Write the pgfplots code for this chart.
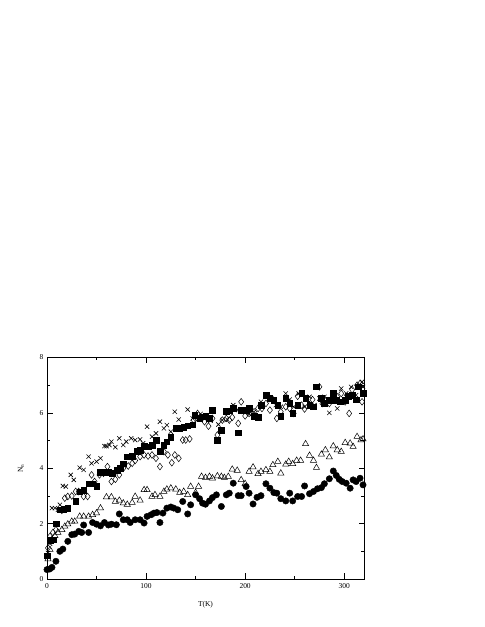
\documentclass[border=0pt]{standalone}
\usepackage{fontspec}
\setmainfont{Liberation Serif}
\usepackage{pgfplots}
\pgfplotsset{compat=1.18}
\usepackage{pgfplotstable}

\pgfplotstableread{
T N
0 0.34
2.7 0.36
5 0.42
9 0.64
13 1.0
16 1.08
21 1.36
25 1.6
28 1.62
32 1.72
35 1.68
37 1.95
42 1.68
46 2.04
50 1.98
54 1.92
58 2.04
62 1.95
65 1.98
70 1.96
73 2.35
77 2.14
81 2.14
84 2.04
89 2.14
94 2.14
98 2.02
101 2.26
105 2.32
108 2.38
111 2.40
114 2.04
117 2.38
121 2.56
125 2.6
128 2.56
132 2.5
137 2.8
142 2.35
145 2.68
150 3.04
154 2.9
157 2.74
160 2.7
164 2.82
167 2.94
171 3.04
176 2.62
181 3.04
184 3.1
188 3.46
193 3.01
196 3.01
201 3.34
204 3.1
208 2.71
212 2.95
216 3.01
221 3.44
225 3.28
229 3.12
232 3.1
236 2.9
241 2.82
245 3.1
248 2.82
253 2.98
257 2.98
260 3.36
265 3.08
269 3.16
273 3.26
277 3.3
280 3.44
285 3.62
289 3.9
292 3.74
295 3.6
298 3.52
302 3.46
306 3.28
309 3.58
312 3.52
316 3.64
319 3.4
}\circles

\pgfplotstableread{
T N
1 0.72
3 1.06
5 1.42
8 1.56
11 1.68
15 1.78
18 1.9
21 1.98
25 2.08
28 2.08
33 2.26
37 2.26
42 2.26
46 2.32
50 2.38
54 2.56
60 2.96
65 2.96
69 2.8
73 2.84
77 2.74
81 2.69
86 2.76
89 2.98
94 2.84
98 3.22
101 3.22
106 2.98
109 3.04
114 2.98
118 3.16
121 3.24
125 3.28
130 3.24
134 3.12
138 3.16
142 3.04
145 3.34
150 3.12
153 3.34
156 3.7
160 3.66
164 3.7
167 3.64
172 3.72
176 3.7
179 3.66
183 3.7
187 3.96
192 3.92
196 3.58
200 3.44
204 3.88
208 4.04
213 3.8
216 3.88
221 3.94
225 3.88
228 4.12
233 4.24
236 3.82
241 4.14
244 4.24
248 4.16
252 4.28
256 4.28
261 4.88
265 4.46
269 4.28
272 4.02
277 4.5
281 4.66
285 4.4
289 4.8
293 4.66
297 4.6
301 4.92
306 4.9
309 4.78
313 5.14
317 5.02
319 5.05
}\triangles

\pgfplotstableread{
T N
0 0.84
3 1.4
6 1.42
9 2.0
13 2.5
17 2.52
21 2.56
29 2.82
33 3.16
37 3.2
42 3.44
46 3.44
50 3.36
54 3.86
58 3.86
62 3.86
66 3.82
71 3.92
74 4.0
77 4.16
81 4.42
86 4.44
91 4.62
94 4.66
98 4.8
102 4.78
106 4.84
110 5.02
114 4.62
118 4.84
121 4.96
125 5.12
130 5.44
134 5.44
138 5.48
142 5.54
147 5.57
149 5.92
154 5.8
157 5.86
160 5.89
164 5.8
167 6.1
172 5.02
176 5.38
181 6.07
184 6.08
188 6.16
193 5.28
196 6.1
201 6.1
204 6.16
209 5.89
213 5.84
216 6.28
221 6.64
225 6.52
229 6.46
233 6.28
236 5.89
241 6.52
245 6.34
248 5.98
253 6.28
257 6.7
261 6.52
265 6.28
269 6.22
272 6.94
277 6.52
280 6.34
285 6.46
289 6.7
292 6.46
296 6.4
301 6.46
304 6.6
308 6.64
312 6.48
314 6.94
319 6.7
}\squares

\pgfplotstableread{
T N
1 1.12
3 1.54
6 1.68
9 1.78
15 2.48
18 2.92
21 2.98
25 3.0
29 3.16
32 3.16
37 2.98
41 2.98
45 3.76
48 3.52
53 3.76
57 3.82
61 4.06
65 3.52
69 3.6
73 3.76
77 4.0
82 4.08
86 4.18
89 4.28
94 4.42
98 4.48
102 4.44
106 4.48
110 4.36
114 4.06
118 4.6
122 4.48
126 4.2
129 4.48
133 4.36
137 5.02
140 5.02
144 5.06
148 5.74
152 5.98
155 5.84
159 5.68
163 5.52
167 5.8
172 5.2
177 5.74
181 5.8
184 5.74
187 5.84
193 5.62
196 6.4
200 5.89
204 5.98
209 6.04
213 6.16
217 6.16
221 6.34
225 6.1
228 6.48
232 5.8
236 6.04
241 6.22
245 6.16
249 5.98
253 6.6
257 6.28
260 6.14
265 6.3
268 6.48
275 6.94
278 6.34
281 6.46
285 6.34
289 6.48
293 6.58
297 6.7
301 6.4
305 5.98
308 6.84
313 7.0
316 7.06
318 6.4
}\diamonds

\pgfplotstableread{
T N
1 0.94
3 1.28
5 2.56
8 2.56
11 2.5
13 2.68
16 3.36
19 3.34
24 3.76
27 3.58
33 4.02
37 3.94
42 4.42
45 4.18
50 4.24
54 4.36
58 4.8
60 4.8
63 4.84
65 4.96
69 4.76
73 5.08
77 4.84
80 4.96
85 5.08
89 5.02
94 5.04
97 4.9
101 5.5
106 5.14
110 5.26
114 5.68
118 5.44
121 5.56
125 5.32
129 6.04
133 5.76
138 5.52
142 6.12
147 5.8
152 5.76
155 5.96
160 5.86
165 5.72
173 5.58
177 5.74
182 5.76
188 6.28
193 6.1
198 6.04
204 5.96
209 6.04
216 6.4
221 6.58
226 6.46
231 6.28
236 6.22
241 6.7
245 6.48
249 6.22
254 6.7
260 6.22
265 6.58
270 6.28
275 6.52
280 6.58
285 6.0
289 6.52
293 6.16
297 6.88
302 6.7
307 6.94
312 6.64
318 7.12
319 6.94
}\crosses

\begin{document}
\begin{tikzpicture}[x=1bp,y=1bp]
\useasboundingbox (0,0) rectangle (485,627);
\begin{axis}[
    at={(47bp,48bp)}, anchor=south west,
    width=317bp, height=221.5bp, scale only axis,
    xmin=0, xmax=320, ymin=0, ymax=8,
    xtick={0,100,200,300}, minor xtick={50,150,250},
    ytick={0,2,4,6,8}, minor ytick={1,3,5,7},
    tick align=inside,
    major tick length=5.5bp, minor tick length=3bp,
    axis line style={line width=0.9bp},
    every tick/.style={black, line width=0.7bp},
    ticklabel style={font=\fontsize{7.5}{9}\selectfont},
    /pgf/number format/assume math mode=true,
    xticklabel style={yshift=-1bp},
    xlabel={T(K)}, ylabel={N$_{\mathrm{n}}$},
    label style={font=\fontsize{7.5}{9}\selectfont},
    xlabel style={yshift=-6bp},
    ylabel style={yshift=9bp},
    only marks,
]
\addplot[mark=*, mark size=3.2bp, black] table[x=T,y=N] {\circles};
\addplot[mark=triangle, mark size=3.6bp, black, mark options={line width=0.5bp}] table[x=T,y=N] {\triangles};
\addplot[mark=square*, mark size=2.8bp, black] table[x=T,y=N] {\squares};
\addplot[mark=diamond, mark size=3.4bp, black, mark options={line width=0.5bp, fill=white}] table[x=T,y=N] {\diamonds};
\addplot[mark=x, mark size=3bp, black, mark options={line width=0.6bp}] table[x=T,y=N] {\crosses};
\end{axis}
\end{tikzpicture}
\end{document}
